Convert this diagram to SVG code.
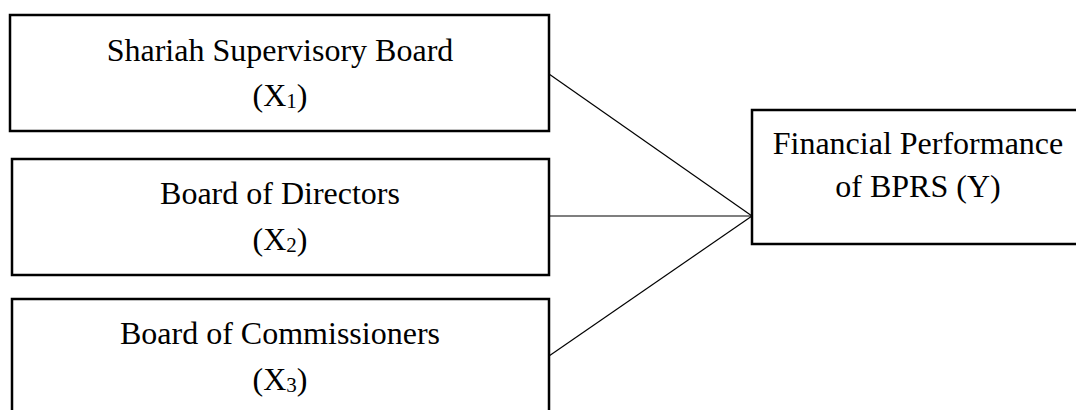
<svg xmlns="http://www.w3.org/2000/svg" width="1076" height="410" viewBox="0 0 1076 410">
<style>
.box{fill:#fff;stroke:#000;stroke-width:2.5}
.t{font-family:"Liberation Serif","Times New Roman",serif;font-size:32px;fill:#000;text-anchor:middle}
.sub{font-size:21px}
.c{stroke:#000;stroke-width:1.2;fill:none}
</style>
<rect width="1076" height="410" fill="#fff"/>
<g id="connectors">
<line class="c" x1="549" y1="74" x2="752" y2="216"/>
<line class="c" x1="549" y1="216" x2="752" y2="216"/>
<line class="c" x1="549" y1="356" x2="752" y2="216"/>
</g>
<g id="x1">
<rect class="box" x="10" y="15" width="539" height="116"/>
<text class="t" x="280" y="61">Shariah Supervisory Board</text>
<text class="t" x="280" y="106">(X<tspan class="sub" dy="2">1</tspan><tspan dy="-2">)</tspan></text>
</g>
<g id="x2">
<rect class="box" x="12" y="159" width="537" height="116"/>
<text class="t" x="280" y="204">Board of Directors</text>
<text class="t" x="280" y="250">(X<tspan class="sub" dy="2">2</tspan><tspan dy="-2">)</tspan></text>
</g>
<g id="x3">
<rect class="box" x="12" y="299" width="537" height="116"/>
<text class="t" x="280" y="344">Board of Commissioners</text>
<text class="t" x="280" y="390">(X<tspan class="sub" dy="2">3</tspan><tspan dy="-2">)</tspan></text>
</g>
<g id="y">
<rect class="box" x="752" y="110" width="334" height="134"/>
<text class="t" x="918" y="154">Financial Performance</text>
<text class="t" x="918" y="197">of BPRS (Y)</text>
</g>
</svg>
